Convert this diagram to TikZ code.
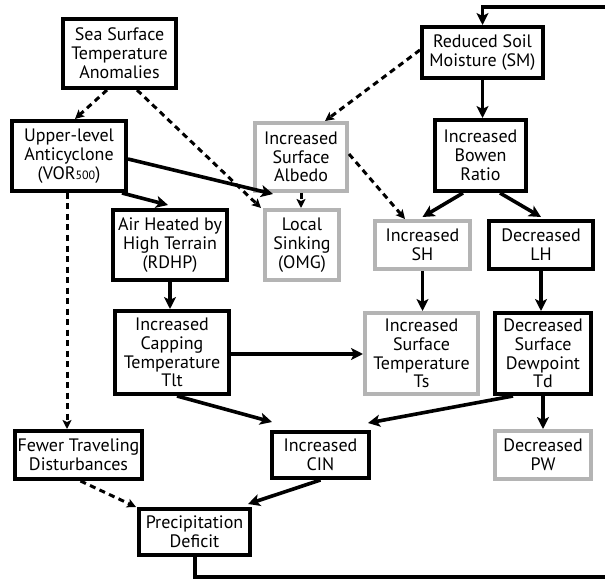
\documentclass[tikz,border=0pt]{standalone}
\usepackage{fontspec}
\setmainfont{PT Sans}
\usetikzlibrary{arrows.meta,calc}
\definecolor{boxgray}{HTML}{B4B4B4}
\begin{document}
\begin{tikzpicture}[x=1pt,y=-1pt,
  box/.style={draw=black, line width=4pt, fill=white, align=center, inner sep=0pt,
    font=\fontsize{18}{18.8}\selectfont},
  gbox/.style={box, draw=boxgray},
  arr/.style={line width=3.6pt, -{Stealth[length=12pt,width=12pt,inset=3pt]}},
  darr/.style={line width=3pt, dash pattern=on 6pt off 4.5pt, -{Stealth[length=9pt,width=9pt,inset=2pt]}},
  loop/.style={line width=3.6pt, -{Stealth[length=12pt,width=12pt,inset=3pt]}},
]
\useasboundingbox (0,0) rectangle (605,580);

\node[box, minimum width=113pt, minimum height=69pt] (sst) at (119.5,53.5) {Sea Surface\\Temperature\\Anomalies};
\node[box, minimum width=114pt, minimum height=70pt] (ula) at (69,156) {Upper-level\\Anticyclone\\(VOR{\fontsize{12}{12}\selectfont 500})};
\node[box, minimum width=121pt, minimum height=51pt] (sm) at (482.5,52.5) {Reduced Soil\\Moisture (SM)};
\node[gbox, minimum width=92pt, minimum height=68pt] (alb) at (301,157) {Increased\\Surface\\Albedo};
\node[box, minimum width=91pt, minimum height=71pt] (bow) at (480.5,155.5) {Increased\\Bowen\\Ratio};
\node[box, minimum width=114pt, minimum height=70pt] (air) at (170,245) {Air Heated by\\High Terrain\\(RDHP)};
\node[gbox, minimum width=74pt, minimum height=70pt] (sink) at (302,245) {Local\\Sinking\\(OMG)};
\node[gbox, minimum width=95pt, minimum height=48pt] (sh) at (422.5,245) {Increased\\SH};
\node[box, minimum width=104pt, minimum height=48pt] (lh) at (541,245) {Decreased\\LH};
\node[box, minimum width=114pt, minimum height=83pt] (cap) at (172,352.5) {Increased\\Capping\\Temperature\\Tlt};
\node[gbox, minimum width=113pt, minimum height=81pt] (ts) at (421.5,353.5) {Increased\\Surface\\Temperature\\Ts};
\node[box, minimum width=96pt, minimum height=81pt] (td) at (543,353.5) {Decreased\\Surface\\Dewpoint\\Td};
\node[box, minimum width=127pt, minimum height=48pt] (few) at (78.5,455) {Fewer Traveling\\Disturbances};
\node[box, minimum width=97pt, minimum height=46pt] (cin) at (320.5,455) {Increased\\CIN};
\node[gbox, minimum width=96pt, minimum height=48pt] (pw) at (543,455) {Decreased\\PW};
\node[box, minimum width=111pt, minimum height=46pt] (pre) at (194.5,532) {Precipitation\\Deficit};

% dashed links
\draw[darr] ([xshift=-12.5pt]sst.south) -- ([xshift=6pt]ula.north);
\draw[darr] ([xshift=17.5pt]sst.south) -- ([xshift=-2pt]sink.north west);
\draw[darr] ([xshift=-2pt]ula.south) -- ([xshift=-2pt]ula.south |- few.north);
\draw[darr] ([yshift=2.5pt]sm.west) -- ([xshift=24pt]alb.north);
\draw[darr] (alb.south) -- (alb.south |- sink.north);
\draw[darr] ([yshift=3pt]alb.east) -- ([xshift=-17.5pt]sh.north);
\draw[darr] ([xshift=2pt]few.south) -- ([xshift=-1pt]pre.north west);

% solid links
\draw[arr] ([yshift=-3pt]ula.east) -- ([xshift=10pt,yshift=14pt]sink.north west);
\draw[arr] ([xshift=-6pt]ula.south east) -- ([xshift=-2pt,yshift=3pt]air.north);
\draw[arr] (sm.south) -- (sm.south |- bow.north);
\draw[arr] ([xshift=-17.5pt]bow.south) -- ([yshift=2pt]sh.north);
\draw[arr] ([xshift=19.5pt]bow.south) -- ([yshift=2pt]lh.north);
\draw[arr] (air.south) -- (air.south |- cap.north);
\draw[arr] (sh.south) -- (sh.south |- ts.north);
\draw[arr] (lh.south) -- (lh.south |- td.north);
\draw[arr] ([yshift=-1.5pt]cap.east) -- ([yshift=-1.5pt]cap.east -| ts.west);
\draw[arr] ([xshift=5pt]cap.south) -- ([xshift=2pt,yshift=8pt]cin.north west);
\draw[arr] ([xshift=-30pt]td.south) -- ([xshift=-3pt,yshift=7pt]cin.north east);
\draw[arr] (td.south) -- (td.south |- pw.north);
\draw[arr] (cin.south) -- ([xshift=-4pt,yshift=3pt]pre.north east);

% feedback loop
\coordinate (lb) at ($(pre.south)+(0.5,20)$);
\coordinate (rb) at (615,577);
\coordinate (rt) at (615,7);
\draw[loop] ([xshift=0.5pt]pre.south) -- (lb) -- (rb) -- (rt) -- (rt -| sm.north) -- (sm.north);
\end{tikzpicture}
\end{document}
